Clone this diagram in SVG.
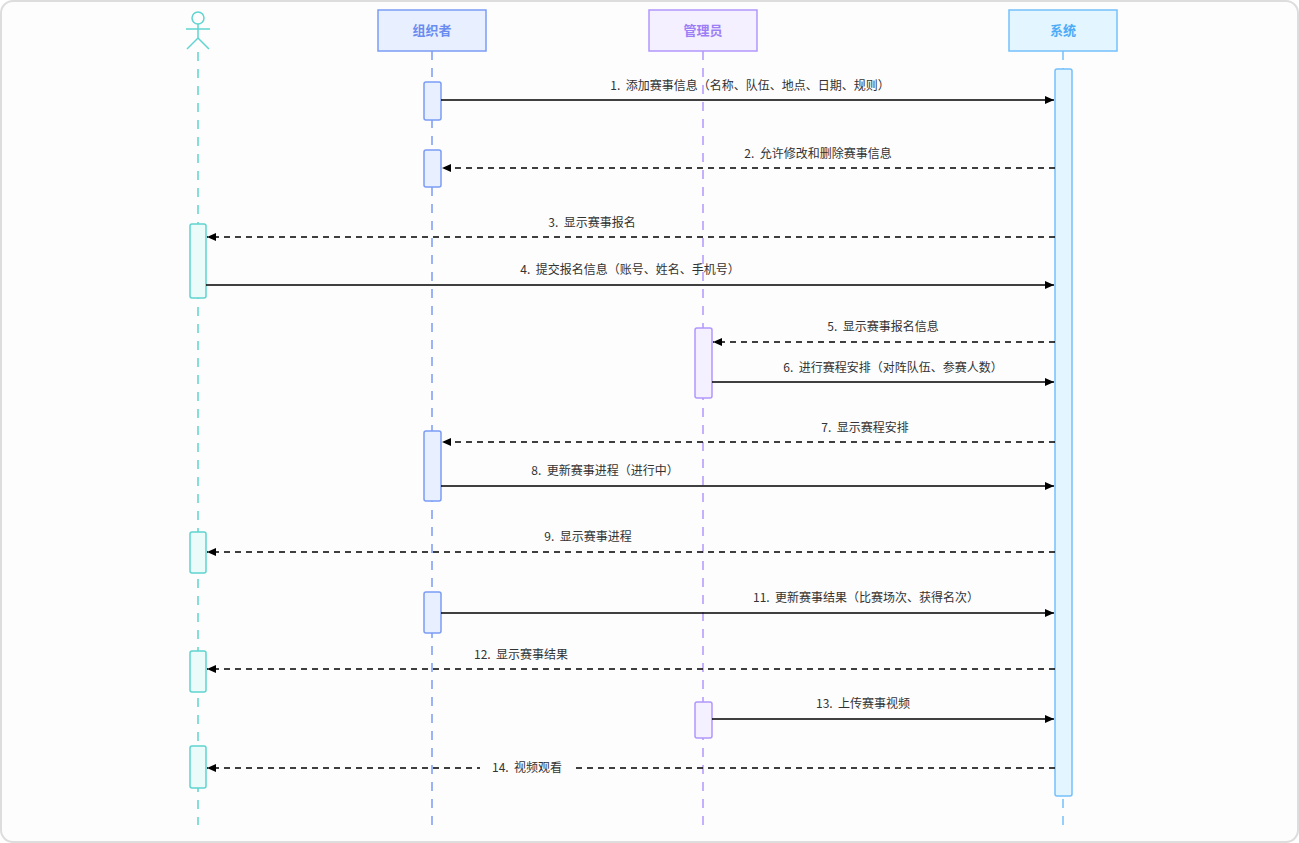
<svg xmlns="http://www.w3.org/2000/svg" width="1299" height="843" viewBox="0 0 1299 843">
<defs>
<marker id="ah" markerWidth="10" markerHeight="10" refX="9" refY="5" orient="auto" markerUnits="userSpaceOnUse"><path d="M0,1 L9,5 L0,9 Z" fill="#000"/></marker>
<style>
text{font-family:"Noto Sans CJK SC","Noto Sans",sans-serif}
.lbl{font-size:12px;fill:#333;text-anchor:middle;white-space:pre}
.hd{font-size:13px;font-weight:bold;text-anchor:middle}
.msg{stroke:#000;stroke-width:1.3;fill:none;marker-end:url(#ah)}
.dash{stroke-dasharray:6 5}
.ll{stroke-width:1.5;stroke-dasharray:9 8}
.org{fill:#e8f0ff;stroke:#7a9cf5;stroke-width:1.5}
.adm{fill:#f5f0ff;stroke:#b197fc;stroke-width:1.5}
.sys{fill:#e3f5ff;stroke:#74c0fc;stroke-width:1.5}
.act{fill:#eafbfa;stroke:#5fd4d0;stroke-width:1.5}
</style>
</defs>
<rect x="1" y="1" width="1297" height="841" rx="12" fill="#fdfdfd" stroke="#ddd" stroke-width="2"/>
<g id="lifelines">
<line class="ll" x1="198" y1="52" x2="198" y2="825" stroke="#5fd4d0"/>
<line class="ll" x1="432" y1="51" x2="432" y2="825" stroke="#7a9cf5"/>
<line class="ll" x1="703" y1="51" x2="703" y2="825" stroke="#b197fc"/>
<line class="ll" x1="1063" y1="51" x2="1063" y2="825" stroke="#74c0fc"/>
</g>
<g id="actor" fill="none" stroke="#5fd4d0" stroke-width="1.5">
<circle cx="198" cy="18" r="6"/><line x1="198" y1="24" x2="198" y2="38"/><line x1="186" y1="29" x2="210" y2="29"/><line x1="198" y1="38" x2="187" y2="49"/><line x1="198" y1="38" x2="209" y2="49"/>
</g>
<g id="node-org"><rect class="org" x="378" y="10" width="108" height="41"/><text class="hd" x="432" y="35" fill="#6a8cf0">组织者</text></g>
<g id="node-adm"><rect class="adm" x="649" y="10" width="108" height="41"/><text class="hd" x="703" y="35" fill="#9d7ff5">管理员</text></g>
<g id="node-sys"><rect class="sys" x="1009" y="10" width="108" height="41"/><text class="hd" x="1063" y="35" fill="#4dabf7">系统</text></g>
<g id="activations">
<rect class="sys" x="1055" y="69" width="17" height="727" rx="2"/>
<rect class="org" x="424" y="82" width="17" height="38" rx="2"/>
<rect class="org" x="424" y="150" width="17" height="37" rx="2"/>
<rect class="act" x="190" y="224" width="16" height="74" rx="2"/>
<rect class="adm" x="695" y="328" width="17" height="70" rx="2"/>
<rect class="org" x="424" y="431" width="17" height="70" rx="2"/>
<rect class="act" x="190" y="532" width="16" height="41" rx="2"/>
<rect class="org" x="424" y="592" width="17" height="41" rx="2"/>
<rect class="act" x="190" y="651" width="16" height="41" rx="2"/>
<rect class="adm" x="695" y="702" width="17" height="36" rx="2"/>
<rect class="act" x="190" y="746" width="16" height="42" rx="2"/>
</g>
<g id="connectors">
<line class="msg" x1="441" y1="100" x2="1054" y2="100"/>
<line class="msg dash" x1="1055" y1="168" x2="442" y2="168"/>
<line class="msg dash" x1="1055" y1="237" x2="207" y2="237"/>
<line class="msg" x1="206" y1="285" x2="1054" y2="285"/>
<line class="msg dash" x1="1055" y1="342" x2="713" y2="342"/>
<line class="msg" x1="712" y1="382" x2="1054" y2="382"/>
<line class="msg dash" x1="1055" y1="442" x2="442" y2="442"/>
<line class="msg" x1="441" y1="486" x2="1054" y2="486"/>
<line class="msg dash" x1="1055" y1="552" x2="207" y2="552"/>
<line class="msg" x1="441" y1="613" x2="1054" y2="613"/>
<line class="msg dash" x1="1055" y1="669" x2="207" y2="669"/>
<line class="msg" x1="712" y1="719" x2="1054" y2="719"/>
<line class="msg dash" x1="1055" y1="768" x2="207" y2="768"/>
<rect x="480" y="759" width="94" height="18" fill="#fdfdfd"/>
<text class="lbl" x="750" y="90">1.  添加赛事信息（名称、队伍、地点、日期、规则）</text>
<text class="lbl" x="818" y="158">2.  允许修改和删除赛事信息</text>
<text class="lbl" x="592" y="227">3.  显示赛事报名</text>
<text class="lbl" x="630" y="274">4.  提交报名信息（账号、姓名、手机号）</text>
<text class="lbl" x="883" y="331">5.  显示赛事报名信息</text>
<text class="lbl" x="893" y="372">6.  进行赛程安排（对阵队伍、参赛人数）</text>
<text class="lbl" x="865" y="432">7.  显示赛程安排</text>
<text class="lbl" x="605" y="475">8.  更新赛事进程（进行中）</text>
<text class="lbl" x="588" y="541">9.  显示赛事进程</text>
<text class="lbl" x="866" y="602">11.  更新赛事结果（比赛场次、获得名次）</text>
<text class="lbl" x="521" y="659">12.  显示赛事结果</text>
<text class="lbl" x="863" y="708">13.  上传赛事视频</text>
<text class="lbl" x="527" y="772">14.  视频观看</text>
</g>
</svg>
